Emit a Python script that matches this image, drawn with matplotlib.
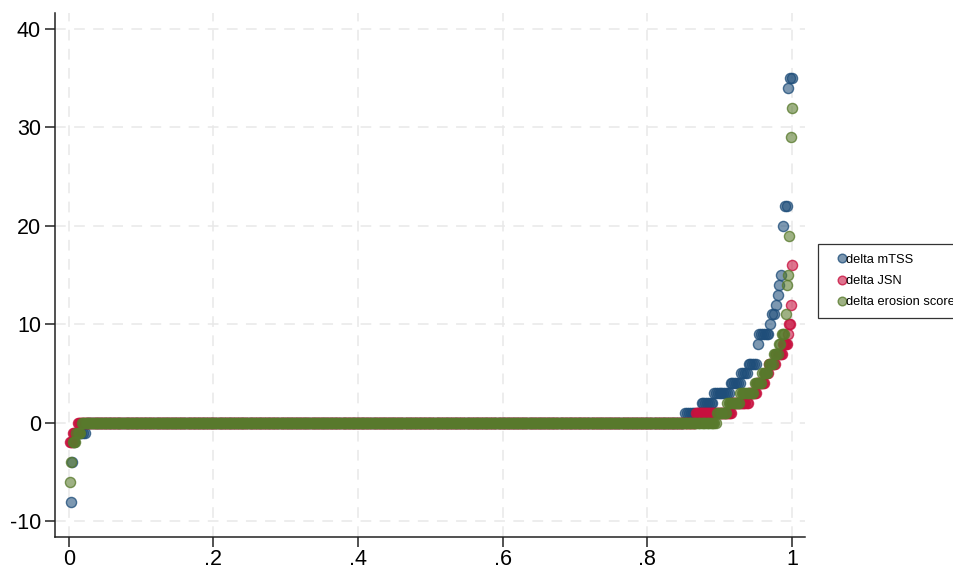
import numpy as np
import matplotlib
matplotlib.use("Agg")
import matplotlib.pyplot as plt
from matplotlib.colors import to_rgba

# distinct values of each change score and how many observations have that value
mtss_vals = [-8, -4, -2, -1, 0, 1, 2, 3, 4, 5, 6, 8, 9, 10, 11, 12, 13, 14, 15, 20, 22, 34, 35]
mtss_counts = [1, 1, 1, 6, 331, 9, 7, 9, 6, 4, 5, 1, 6, 1, 2, 1, 1, 1, 1, 1, 2, 1, 2]

jsn_vals = [-2, -1, 0, 1, 2, 3, 4, 5, 6, 7, 8, 9, 10, 12, 16]
jsn_counts = [3, 5, 598, 35, 16, 8, 8, 4, 7, 6, 5, 1, 2, 1, 1]

erosion_vals = [-6, -4, -2, -1, 0, 1, 2, 3, 4, 5, 6, 7, 8, 9, 11, 14, 15, 19, 29, 32]
erosion_counts = [1, 1, 3, 4, 492, 8, 10, 11, 6, 5, 4, 4, 2, 3, 1, 1, 1, 1, 1, 1]

labels = ["delta mTSS", "delta JSN", "delta erosion score"]
colors = ["#1f4e7a", "#c8103e", "#587a2c"]

y_ticks = [-10, 0, 10, 20, 30, 40]
x_ticks = [0, 0.2, 0.4, 0.6, 0.8, 1.0]
x_ticklabels = ["0", ".2", ".4", ".6", ".8", "1"]

plt.rcParams['font.family'] = ['Liberation Sans', 'DejaVu Sans']
plt.rcParams['axes.unicode_minus'] = False

W, H = 954, 566
fig = plt.figure(figsize=(W / 100, H / 100), dpi=100)
ax = fig.add_axes([55 / W, 1 - 537 / H, (805 - 55) / W, (537 - 13) / H])


def cumul(vals, counts):
    # sorted sample and its cumulative fraction i/N (like Stata's cumul)
    y = np.repeat(vals, counts)
    n = len(y)
    x = np.arange(1, n + 1) / n
    return x, y


series = [(mtss_vals, mtss_counts), (jsn_vals, jsn_counts), (erosion_vals, erosion_counts)]
handles = []
for (vals, counts), lab, c in zip(series, labels, colors):
    x, y = cumul(vals, counts)
    h, = ax.plot(x, y, linestyle="none", marker="o", ms=7.3,
                 mfc=to_rgba(c, 0.58), mec=to_rgba(c, 0.78), mew=1.0,
                 label=lab, zorder=3)
    handles.append(h)

ax.set_xlim(-0.019, 1.018)
ax.set_ylim(-11.6, 41.6)
ax.set_yticks(y_ticks)
ax.set_xticks(x_ticks)
ax.set_xticklabels(x_ticklabels)

ax.grid(True, color="#e8e8e8", linewidth=1.1, linestyle=(0, (7, 5.5)), zorder=0)
ax.set_axisbelow(True)

for s in ["top", "right"]:
    ax.spines[s].set_visible(False)
for s in ["left", "bottom"]:
    ax.spines[s].set_linewidth(1.1)
    ax.spines[s].set_color("#222222")
ax.tick_params(axis="both", direction="out", length=7, width=1.1, color="#222222",
               labelsize=15.5, labelcolor="black", pad=3)
ax.tick_params(axis="x", pad=1.5)

leg = fig.legend(handles=handles, labels=labels, loc="upper left",
                 bbox_to_anchor=(818 / W, 1 - 244 / H), bbox_transform=fig.transFigure,
                 borderaxespad=0, frameon=True, fancybox=False, fontsize=9.3,
                 handlelength=2.2, handletextpad=-0.8, borderpad=0.75,
                 labelspacing=0.72, markerscale=0.85)
leg.get_frame().set_edgecolor("black")
leg.get_frame().set_linewidth(0.9)

fig.savefig("out.png", dpi=100)
